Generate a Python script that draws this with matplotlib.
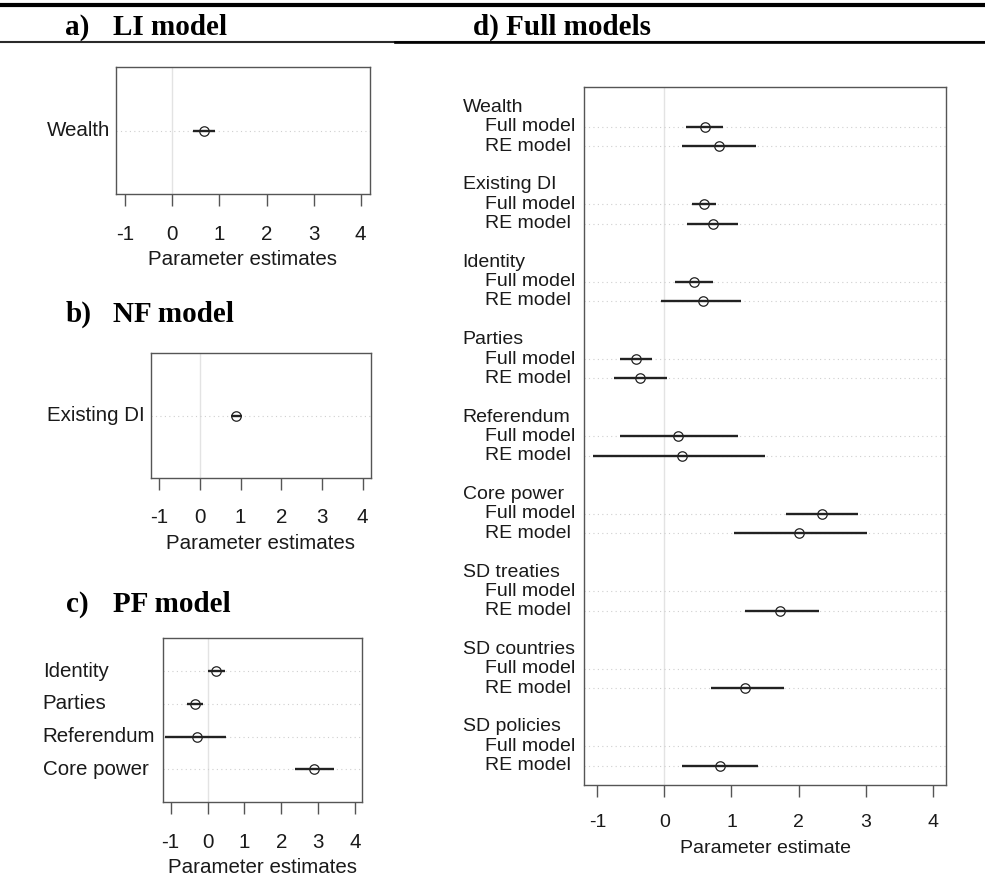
import numpy as np
import matplotlib.pyplot as plt
from matplotlib.transforms import blended_transform_factory
from matplotlib.lines import Line2D

# panel a) LI model
a_labels = ['Wealth']
a_est = [0.67]
a_lo = [0.44]
a_hi = [0.90]

# panel b) NF model
b_labels = ['Existing DI']
b_est = [0.89]
b_lo = [0.76]
b_hi = [1.04]

# panel c) PF model
c_labels = ['Identity', 'Parties', 'Referendum', 'Core power']
c_est = [0.22, -0.33, -0.29, 2.89]
c_lo = [0.02, -0.56, -1.15, 2.37]
c_hi = [0.48, -0.13, 0.51, 3.43]

# panel d) Full models
d_groups = ['Wealth', 'Existing DI', 'Identity', 'Parties', 'Referendum',
            'Core power', 'SD treaties', 'SD countries', 'SD policies']
d_items = ['Full model', 'RE model']
full_est = [0.60, 0.59, 0.44, -0.42, 0.20, 2.35, np.nan, np.nan, np.nan]
full_lo = [0.32, 0.41, 0.15, -0.66, -0.66, 1.82, np.nan, np.nan, np.nan]
full_hi = [0.87, 0.77, 0.73, -0.19, 1.09, 2.89, np.nan, np.nan, np.nan]
re_est = [0.81, 0.72, 0.58, -0.36, 0.26, 2.00, 1.73, 1.20, 0.83]
re_lo = [0.26, 0.34, -0.05, -0.75, -1.07, 1.04, 1.20, 0.70, 0.26]
re_hi = [1.36, 1.10, 1.14, 0.04, 1.50, 3.02, 2.30, 1.78, 1.39]

xticks = [-1, 0, 1, 2, 3, 4]

W, H = 985, 877
fig = plt.figure(figsize=(W / 100, H / 100), dpi=100)
plt.rcParams['font.family'] = ['Liberation Sans', 'DejaVu Sans']

box_col = '#555555'
txt_col = '#1a1a1a'


def px_axes(l, t, r, b):
    return fig.add_axes([l / W, 1 - b / H, (r - l) / W, (b - t) / H])


def style_axes(ax, fs, pad, lpad, xlabel):
    ax.set_xlim(-1.2, 4.2)
    ax.set_xticks(xticks)
    ax.set_xticklabels([str(t) for t in xticks])
    ax.set_yticks([])
    for s in ax.spines.values():
        s.set_color(box_col)
        s.set_linewidth(1.0)
    ax.tick_params(axis='x', direction='out', length=8.6, width=1.0,
                   color=box_col, labelsize=fs, labelcolor=txt_col, pad=pad)
    ax.axvline(0, color='#e3e3e3', lw=1.0, zorder=0)
    ax.set_xlabel(xlabel, fontsize=fs, color=txt_col, labelpad=lpad)


def draw_rows(ax, rows, est, lo, hi):
    for y, e, l, h in zip(rows, est, lo, hi):
        ax.axhline(y, color='#cfcfcf', lw=0.8, ls=(0, (1, 3)), zorder=1)
        if np.isnan(e):
            continue
        ax.plot([l, h], [y, y], color='#222222', lw=1.7, solid_capstyle='butt', zorder=2)
        ax.plot(e, y, 'o', mfc='none', mec='#222222', ms=6.8, mew=0.9, zorder=3)


def simple_panel(box, labels, est, lo, hi, label_x):
    ax = px_axes(*box)
    n = len(labels)
    rows = list(range(1, n + 1))
    draw_rows(ax, rows, est, lo, hi)
    ax.set_ylim(n + 1, 0)
    style_axes(ax, 14.8, 13.5, 4.5, 'Parameter estimates')
    tr = blended_transform_factory(fig.transFigure, ax.transData)
    for y, lab in zip(rows, labels):
        ax.text(label_x / W, y, lab, transform=tr, ha='left', va='center',
                fontsize=14.8, color=txt_col)
    return ax


simple_panel((116, 67.3, 370, 194), a_labels, a_est, a_lo, a_hi, 46.5)
simple_panel((151, 353.3, 370.7, 477.7), b_labels, b_est, b_lo, b_hi, 47)
simple_panel((163.3, 638.3, 362.3, 802), c_labels, c_est, c_lo, c_hi, 42.7)

# panel d
ax = px_axes(584, 87, 946, 785)
tr = blended_transform_factory(fig.transFigure, ax.transData)
for g, name in enumerate(d_groups):
    r0 = 4 * g
    ax.text(462.7 / W, r0, name, transform=tr, ha='left', va='center',
            fontsize=14, color=txt_col)
    vals = [(full_est[g], full_lo[g], full_hi[g]), (re_est[g], re_lo[g], re_hi[g])]
    for k, item in enumerate(d_items):
        y = r0 + 1 + k
        ax.text(485 / W, y, item, transform=tr, ha='left', va='center',
                fontsize=14, color=txt_col)
        draw_rows(ax, [y], [vals[k][0]], [vals[k][1]], [vals[k][2]])
ax.set_ylim(35, -1.05)
style_axes(ax, 14, 12, 7, 'Parameter estimate')

# headings
serif = ['Liberation Serif', 'DejaVu Serif']
fig.text(65 / W, 1 - 35 / H, 'a)', fontsize=21, fontweight='bold', family=serif, va='baseline')
fig.text(113 / W, 1 - 35 / H, 'LI model', fontsize=21, fontweight='bold', family=serif, va='baseline')
fig.text(473 / W, 1 - 35 / H, 'd) Full models', fontsize=21, fontweight='bold', family=serif, va='baseline')
fig.text(66 / W, 1 - 321.7 / H, 'b)', fontsize=21, fontweight='bold', family=serif, va='baseline')
fig.text(113 / W, 1 - 321.7 / H, 'NF model', fontsize=21, fontweight='bold', family=serif, va='baseline')
fig.text(66 / W, 1 - 611.7 / H, 'c)', fontsize=21, fontweight='bold', family=serif, va='baseline')
fig.text(113 / W, 1 - 611.7 / H, 'PF model', fontsize=21, fontweight='bold', family=serif, va='baseline')

# rules at top
fig.add_artist(Line2D([0, 1], [1 - 5 / H, 1 - 5 / H], color='black', lw=3.0, transform=fig.transFigure))
fig.add_artist(Line2D([0, 1], [1 - 42 / H, 1 - 42 / H], color='#2a2a2a', lw=1.5, transform=fig.transFigure))
fig.add_artist(Line2D([395 / W, 1], [1 - 42 / H, 1 - 42 / H], color='black', lw=1.9, transform=fig.transFigure))

fig.savefig('out.png', dpi=100)
